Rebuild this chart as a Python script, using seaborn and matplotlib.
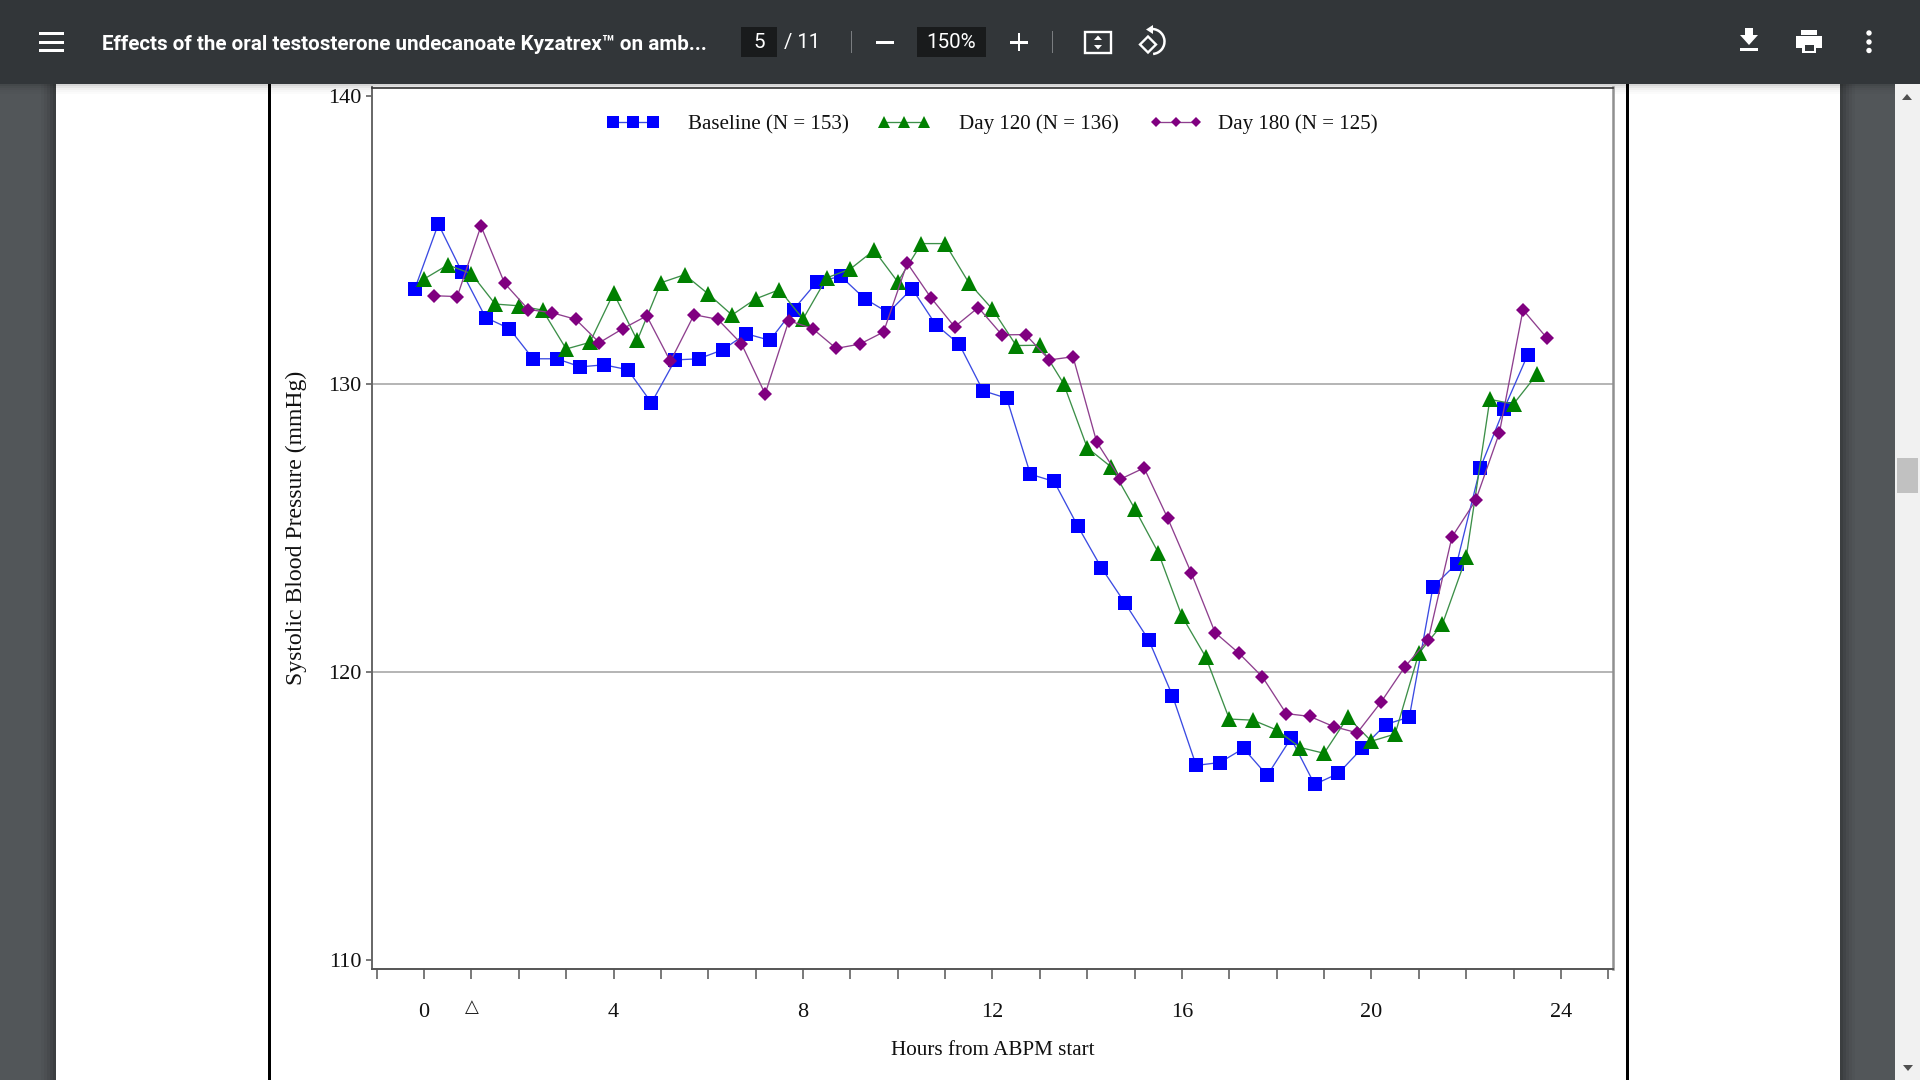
import matplotlib
matplotlib.use("Agg")
import matplotlib.pyplot as plt
from matplotlib.patches import Rectangle, Polygon, Circle, Arc
import seaborn as sns
import pandas as pd

# ---- data ----
hours_baseline = [-0.2, 0.3, 0.8, 1.3, 1.8, 2.3, 2.8, 3.3, 3.8, 4.3, 4.8, 5.3,
                  5.8, 6.3, 6.8, 7.3, 7.8, 8.3, 8.8, 9.3, 9.8, 10.3, 10.8, 11.3,
                  11.8, 12.3, 12.8, 13.3, 13.8, 14.3, 14.8, 15.3, 15.8, 16.3, 16.8, 17.3,
                  17.8, 18.3, 18.8, 19.3, 19.8, 20.3, 20.8, 21.3, 21.8, 22.3, 22.8, 23.3]
sbp_baseline = [133.29, 135.56, 133.89, 132.31, 131.93, 130.88, 130.88, 130.60, 130.67, 130.50, 129.35, 130.84,
                130.88, 131.19, 131.75, 131.52, 132.59, 133.56, 133.74, 132.97, 132.48, 133.32, 132.07, 131.38,
                129.77, 129.51, 126.87, 126.62, 125.07, 123.62, 122.39, 121.11, 119.18, 116.76, 116.86, 117.35,
                116.41, 117.70, 116.10, 116.48, 117.35, 118.18, 118.44, 122.96, 123.77, 127.10, 129.14, 131.02]
hours_day120 = [0.0, 0.5, 1.0, 1.5, 2.0, 2.5, 3.0, 3.5, 4.0, 4.5, 5.0, 5.5,
                6.0, 6.5, 7.0, 7.5, 8.0, 8.5, 9.0, 9.5, 10.0, 10.5, 11.0, 11.5,
                12.0, 12.5, 13.0, 13.5, 14.0, 14.5, 15.0, 15.5, 16.0, 16.5, 17.0, 17.5,
                18.0, 18.5, 19.0, 19.5, 20.0, 20.5, 21.0, 21.5, 22.0, 22.5, 23.0, 23.5]
sbp_day120 = [133.65, 134.14, 133.83, 132.78, 132.72, 132.57, 131.22, 131.45, 133.16, 131.52, 133.52, 133.80,
              133.13, 132.40, 132.96, 133.28, 132.26, 133.69, 134.00, 134.65, 133.55, 134.88, 134.88, 133.52,
              132.60, 131.34, 131.35, 130.02, 127.79, 127.13, 125.68, 124.15, 121.94, 120.53, 118.37, 118.33,
              117.99, 117.38, 117.18, 118.43, 117.60, 117.85, 120.65, 121.67, 123.98, 129.47, 129.31, 130.35]
hours_day180 = [0.2, 0.7, 1.2, 1.7, 2.2, 2.7, 3.2, 3.7, 4.2, 4.7, 5.2, 5.7,
                6.2, 6.7, 7.2, 7.7, 8.2, 8.7, 9.2, 9.7, 10.2, 10.7, 11.2, 11.7,
                12.2, 12.7, 13.2, 13.7, 14.2, 14.7, 15.2, 15.7, 16.2, 16.7, 17.2, 17.7,
                18.2, 18.7, 19.2, 19.7, 20.2, 20.7, 21.2, 21.7, 22.2, 22.7, 23.2, 23.7]
sbp_day180 = [133.07, 133.04, 135.49, 133.50, 132.59, 132.48, 132.25, 131.44, 131.93, 132.37, 130.79, 132.41,
              132.25, 131.40, 129.66, 132.20, 131.93, 131.24, 131.39, 131.81, 134.20, 133.00, 131.99, 132.66,
              131.71, 131.72, 130.84, 130.95, 127.99, 126.70, 127.09, 125.34, 123.43, 121.37, 120.66, 119.83,
              118.56, 118.46, 118.11, 117.89, 118.95, 120.17, 121.13, 124.69, 125.96, 128.30, 132.58, 131.61]
series_labels = ["Baseline (N = 153)", "Day 120 (N = 136)", "Day 180 (N = 125)"]
x_ticks = list(range(-1, 26))
x_labeled = [0, 4, 8, 12, 16, 20, 24]
y_ticks = [110, 120, 130, 140]
doc_title = "Effects of the oral testosterone undecanoate Kyzatrex\u2122 on amb..."

W, H = 1920, 1080
SERIF = ["Liberation Serif", "DejaVu Serif"]
sns.set_theme(style="white")
plt.rcParams["font.family"] = SERIF
fig = plt.figure(figsize=(W / 100, H / 100), dpi=100, facecolor="#525659")

# ---- viewer window, in pixel coordinates ----
bg = fig.add_axes([0, 0, 1, 1], zorder=0)
bg.set_xlim(0, W); bg.set_ylim(H, 0); bg.axis("off")
def rect(x0, y0, x1, y1, c, **k):
    bg.add_patch(Rectangle((x0, y0), x1 - x0, y1 - y0, facecolor=c, edgecolor="none", **k))
rect(0, 0, W, H, "#525659")
for i, a in enumerate([0.28, 0.2, 0.13, 0.07, 0.03]):
    rect(56 - 3 * (i + 1), 84, 56 - 3 * i, H, "black", alpha=a)
    rect(1840 + 3 * i, 84, 1840 + 3 * (i + 1), H, "black", alpha=a)
rect(56, 84, 1840, H, "white")
rect(267.5, 84, 270.5, H, "black")
rect(1625.5, 84, 1628.5, H, "black")
rect(1895, 84, W, H, "#f1f1f1")
rect(1897, 458, 1918, 493, "#c1c1c1")
bg.add_patch(Polygon([[1902, 100], [1912, 100], [1907, 94]], facecolor="#505050", edgecolor="none"))
bg.add_patch(Polygon([[1903, 1065], [1913, 1065], [1908, 1071]], facecolor="#505050", edgecolor="none"))
for i, a in enumerate([0.16, 0.1, 0.06, 0.03, 0.015]):
    rect(0, 84 + 2 * i, 1895, 86 + 2 * i, "black", alpha=a)
rect(0, 0, W, 84, "#323639")
for y in (33, 42, 50.5):
    rect(39, y - 1.5, 64, y + 1.5, "white")
bg.text(102, 44, doc_title, color="white", family=["Roboto", "DejaVu Sans"], fontweight="bold",
        fontsize=14.88, va="center", ha="left")
rect(741, 27, 777, 57, "#191b1c")
bg.text(759, 42.5, "5", color="white", family="Roboto", fontsize=14.8, va="center", ha="center")
bg.text(783.5, 42.5, "/ 11", color="white", family="Roboto", fontsize=14.6, va="center", ha="left")
rect(850.5, 31, 851.5, 53, "#7a7d80")
rect(876, 41, 894, 43.5, "white")
rect(917, 27, 986, 57, "#191b1c")
bg.text(951.5, 43, "150%", color="white", family="Roboto", fontsize=14.9, va="center", ha="center")
rect(1010, 41, 1028, 43.5, "white")
rect(1017.8, 33, 1020.2, 51, "white")
rect(1052, 31, 1053, 53, "#7a7d80")
# fit-to-page icon
bg.add_patch(Rectangle((1085, 32), 26, 21, facecolor="none", edgecolor="white", lw=1.7))
bg.add_patch(Polygon([[1094, 40], [1102, 40], [1098, 35.5]], facecolor="white", edgecolor="none"))
bg.add_patch(Polygon([[1094, 45], [1102, 45], [1098, 49.5]], facecolor="white", edgecolor="none"))
# rotate icon
bg.add_patch(Polygon([[1140, 44.5], [1148, 36.5], [1156, 44.5], [1148, 52.5]], facecolor="none", edgecolor="white", lw=1.7))
bg.add_patch(Arc((1152, 41.5), 25, 25, theta1=-100, theta2=85, edgecolor="white", lw=1.8))
bg.add_patch(Polygon([[1153, 25], [1153, 34], [1146, 29.5]], facecolor="white", edgecolor="none"))
# download icon
rect(1740, 47.5, 1758, 50.5, "white")
bg.add_patch(Polygon([[1745, 28], [1753, 28], [1753, 35], [1758, 35], [1749, 45], [1740, 35], [1745, 35]],
                     facecolor="white", edgecolor="none"))
# print icon
rect(1801, 30, 1817, 35, "white")
rect(1796, 36, 1822, 48, "white")
rect(1802, 43, 1816, 53, "white")
rect(1804.5, 45, 1813.5, 51, "#323639")
# overflow dots
for y in (33, 42, 50.5):
    bg.add_patch(Circle((1869, y), 2.7, facecolor="white", edgecolor="none"))

# ---- chart ----
L, R, T, B = 372, 1613, 87.5, 969
ax = fig.add_axes([L / W, 1 - B / H, (R - L) / W, (B - T) / H], zorder=2, facecolor="white")
styles = [("#0000ff", "#3b4be2", "s", 10.0), ("#008000", "#3c8f48", "^", 11.2), ("#800080", "#8e3f8e", "D", 7.6)]
frames = [pd.DataFrame({"hour": hours_baseline, "sbp": sbp_baseline}),
          pd.DataFrame({"hour": hours_day120, "sbp": sbp_day120}),
          pd.DataFrame({"hour": hours_day180, "sbp": sbp_day180})]
for df, lab, (c, lc, m, ms) in zip(frames, series_labels, styles):
    sns.lineplot(data=df, x="hour", y="sbp", ax=ax, color=lc, marker=m, markersize=ms,
                 markerfacecolor=c, markeredgecolor=c, markeredgewidth=0, linewidth=0.95,
                 estimator=None, sort=False, label=lab, zorder=3, clip_on=False)
ax.set_xlim(-1.1, 25.1)
ax.set_ylim(109.69, 140.3)
for v in (120, 130):
    ax.axhline(v, color="#b4b4b4", lw=1.4, zorder=1)
ax.grid(False)
ax.set_xticks(x_ticks)
ax.set_xticklabels([str(t) if t in x_labeled else "" for t in x_ticks])
ax.set_yticks(y_ticks)
ax.tick_params(axis="x", bottom=True, length=7.2, width=1.1, color="#555555", pad=17, labelsize=16, labelcolor="#111111")
ax.tick_params(axis="y", left=True, length=4.3, width=1.1, color="#555555", pad=3.5, labelsize=16, labelcolor="#111111")
for s, col, lw in (("top", "#333333", 1.2), ("left", "#666666", 1.4), ("bottom", "#555555", 1.4), ("right", "#909090", 1.8)):
    ax.spines[s].set_color(col); ax.spines[s].set_linewidth(lw); ax.spines[s].set_visible(True)
ax.set_xlabel("Hours from ABPM start", fontsize=15.2, color="#111111")
ax.set_ylabel("Systolic Blood Pressure (mmHg)", fontsize=17.1, color="#111111")
ax.xaxis.set_label_coords(0.5, -0.0812)
ax.yaxis.set_label_coords(-0.0523, 0.5)
ax.annotate("\u25b3", xy=(1, 0), xycoords=ax.get_xaxis_transform(), xytext=(0, -38), textcoords="offset pixels",
            ha="center", va="center", fontsize=13, color="#222222", family="DejaVu Sans")

# legend: one entry per block, the original's gaps between swatch and text are uneven
handles, labels = ax.get_legend_handles_labels()
ax.get_legend().remove()
entry_left = [607, 878, 1150]
entry_pad = [1.4, 1.4, 0.75]
entry_ms = [8.4, 8.8, 5.6]
for h, lab, px, pad, ms in zip(handles, labels, entry_left, entry_pad, entry_ms):
    leg = ax.legend(handles=[h], labels=[lab], loc="center left",
                    bbox_to_anchor=((px - L) / (R - L), 1 - (124.5 - T) / (B - T)),
                    frameon=False, numpoints=3, fontsize=15.1, handlelength=2.47,
                    handletextpad=pad, borderaxespad=0, borderpad=0, labelcolor="#111111")
    for line in leg.get_lines():
        line.set_markersize(ms)
    ax.legend_ = None
    ax.add_artist(leg)
fig.savefig("out.png", dpi=100, facecolor=fig.get_facecolor())
